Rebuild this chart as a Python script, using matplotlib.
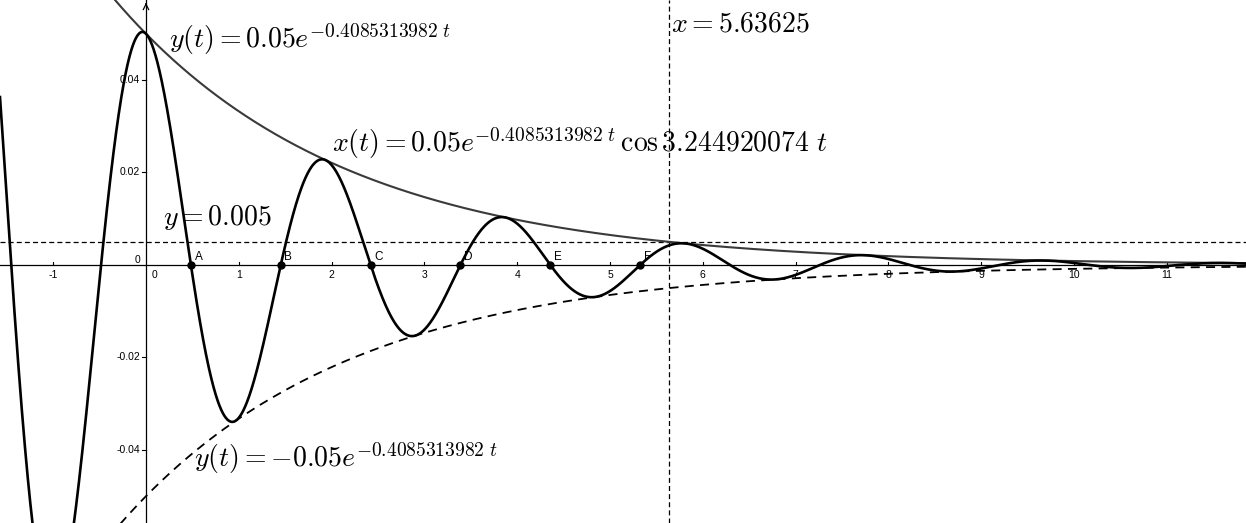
import numpy as np
import matplotlib
matplotlib.use("Agg")
import matplotlib.pyplot as plt

plt.rcParams['mathtext.fontset'] = 'cm'

# Chart parameters (from the equations shown in the chart)
amplitude = 0.05
decay = 0.4085313982
omega = 3.244920074
x_line = 5.63625
y_line = 0.005

# Marked zero crossings
point_names = ["A", "B", "C", "D", "E", "F"]
point_x = [0.484, 1.452, 2.420, 3.389, 4.357, 5.325]

x_ticks = [-1, 1, 2, 3, 4, 5, 6, 7, 8, 9, 10, 11]
y_ticks = [-0.04, -0.02, 0.02, 0.04]
y_tick_labels = ["-0.04", "-0.02", "0.02", "0.04"]

xmin, xmax = -1.573, 11.853
ymin, ymax = -0.0558, 0.0573

fig = plt.figure(figsize=(12.46, 5.23), dpi=100)
ax = fig.add_axes([0, 0, 1, 1])
ax.set_xlim(xmin, xmax)
ax.set_ylim(ymin, ymax)
ax.axis('off')

# axes
ax.axhline(0, color='black', lw=0.9, zorder=1)
ax.axvline(0, color='black', lw=0.9, zorder=1)
ax.annotate('', xy=(0, ymax), xytext=(0, ymax - 0.0015),
            arrowprops=dict(arrowstyle='->', lw=0.9, color='black'))

t = np.linspace(xmin, xmax, 4000)
env = amplitude * np.exp(-decay * t)
curve = env * np.cos(omega * t)

ax.plot(t, env, color='#3a3a3a', lw=1.5, zorder=3)
ax.plot(t, -env, color='black', lw=1.3, ls=(0, (5, 3.5)), zorder=3)
ax.plot(t, curve, color='black', lw=1.9, zorder=4)

ax.axhline(y_line, color='black', lw=0.9, ls=(0, (4, 2.5)), zorder=2)
ax.axvline(x_line, color='black', lw=0.9, ls=(0, (4, 2.5)), zorder=2)

# ticks
tick_font = dict(fontsize=7.5, family='Liberation Sans')
for xt in x_ticks:
    ax.plot([xt, xt], [0, 0.0007], color='black', lw=0.8)
    ax.text(xt, -0.0022, str(xt), ha='center', va='center', **tick_font)
for yt, lab in zip(y_ticks, y_tick_labels):
    ax.plot([-0.04, 0], [yt, yt], color='black', lw=0.8)
    ax.text(-0.065, yt, lab, ha='right', va='center', **tick_font)
ax.text(-0.06, 0.0011, "0", ha='right', va='center', **tick_font)
ax.text(0.06, -0.0022, "0", ha='left', va='center', **tick_font)

# points
ax.plot(point_x, [0] * len(point_x), 'o', color='black', ms=5, zorder=5)
for name, px in zip(point_names, point_x):
    ax.text(px + 0.04, 0.0018, name, ha='left', va='center', fontsize=8.5,
            family='Liberation Sans', zorder=6)

# labels
fs = 20
ax.text(0.25, 0.0469, r"$y(t) = 0.05e^{-0.4085313982\ t}$", fontsize=fs, va='baseline')
ax.text(2.0, 0.0244, r"$x(t) = 0.05e^{-0.4085313982\ t}\,\cos3.244920074\ t$", fontsize=fs, va='baseline')
ax.text(0.18, 0.00865, r"$y = 0.005$", fontsize=fs, va='baseline')
ax.text(5.66, 0.0504, r"$x = 5.63625$", fontsize=fs, va='baseline')
ax.text(0.52, -0.0437, r"$y(t) = -0.05e^{-0.4085313982\ t}$", fontsize=fs, va='baseline')

fig.savefig("out.png", dpi=100)
